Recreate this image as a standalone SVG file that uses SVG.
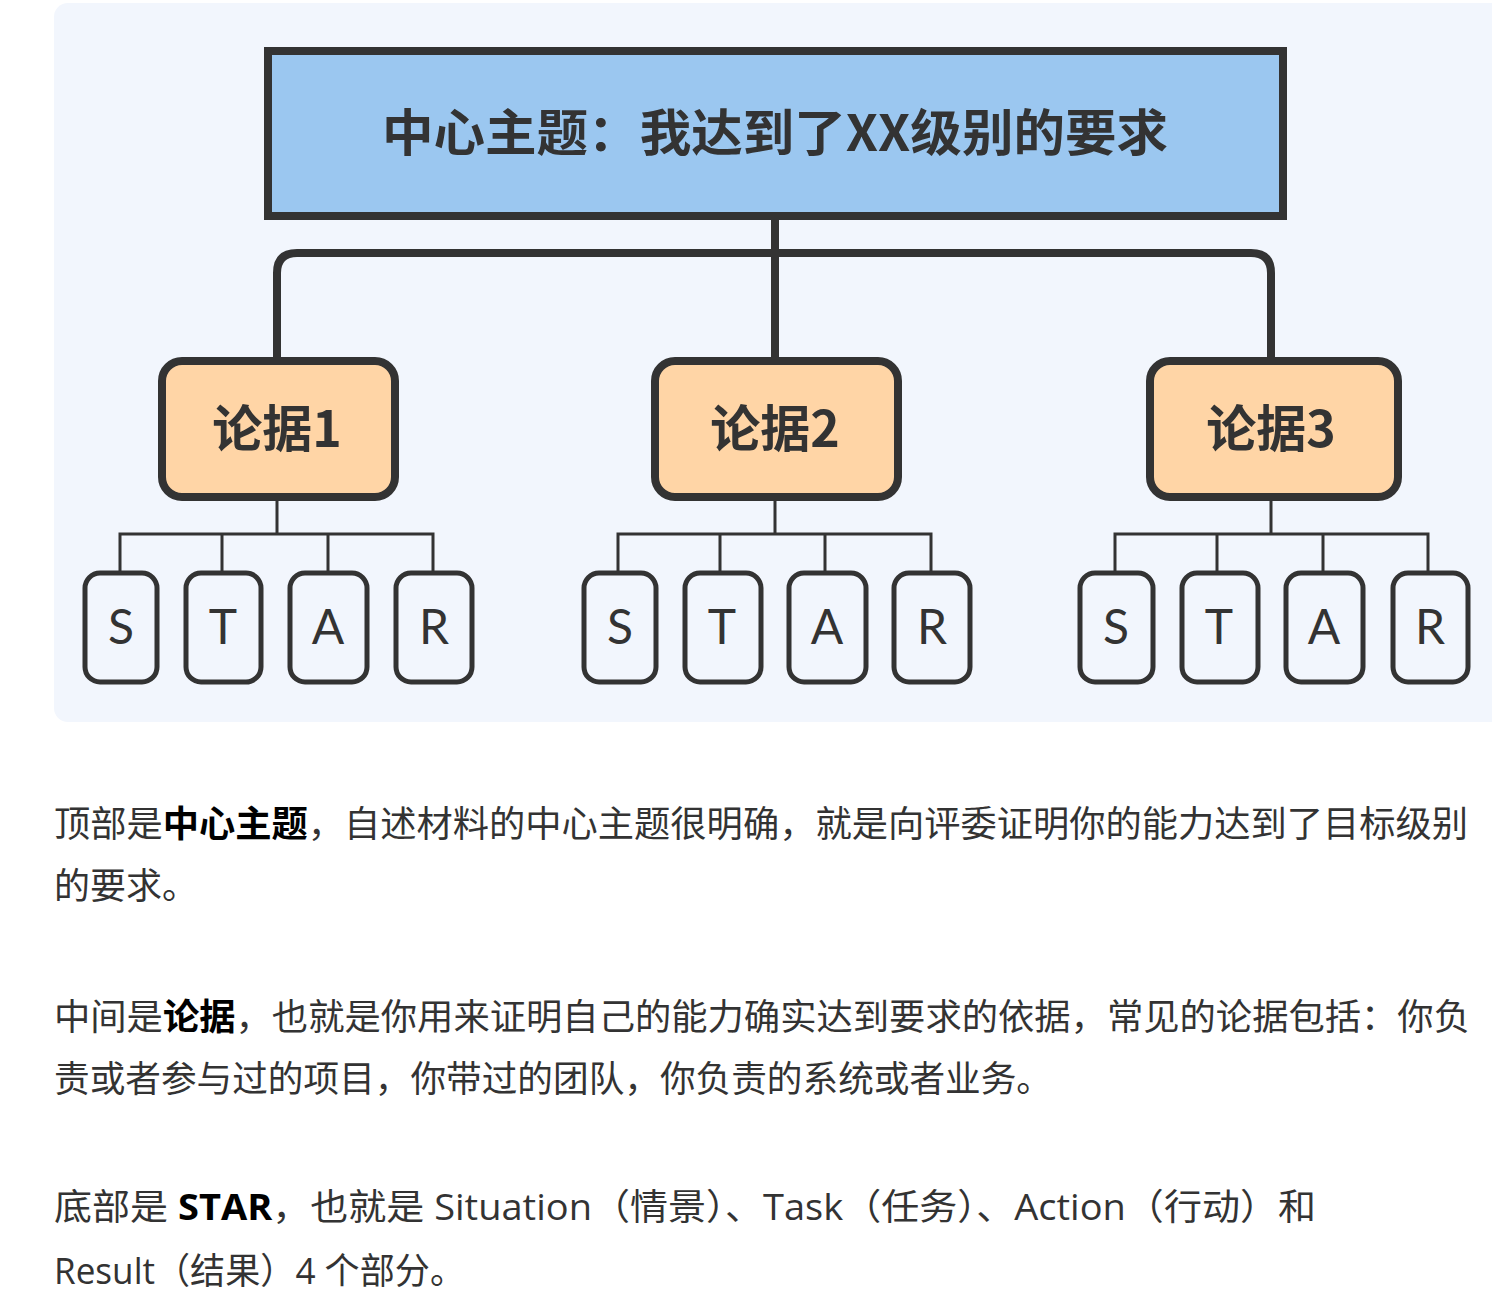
<svg xmlns="http://www.w3.org/2000/svg" width="1492" height="1298" viewBox="0 0 1492 1298">
<style>
.cjk{font-family:"Noto Sans CJK SC","Noto Sans",sans-serif;fill:#333;}
.mid{fill:#ffd5a6;stroke:#333;stroke-width:8;}
.leaf{fill:#f2f6fd;stroke:#333;stroke-width:5;}
.lt{font-family:"Lato","Noto Sans",sans-serif;font-size:48px;fill:#333;text-anchor:middle;}
.mt{font-family:"Noto Sans CJK SC",sans-serif;font-size:50px;font-weight:700;fill:#333;text-anchor:middle;}
.thick{fill:none;stroke:#333;stroke-width:8;}
.thin{fill:none;stroke:#333;stroke-width:3;}
.body{font-family:"Open Sans","Noto Sans CJK SC",sans-serif;font-size:36px;fill:#333;}
.b{font-weight:700;fill:#000;}
</style>
<rect x="54" y="3" width="1460" height="719" rx="14" fill="#f2f6fd"/>
<g id="connectors">
<path class="thick" d="M775,217 V362 M277,362 V273 Q277,253 297,253 H1251 Q1271,253 1271,273 V362"/>
<path class="thin" d="M277,497 V534 M120,573 V534 H433 V573 M222,534 V573 M328,534 V573"/>
<path class="thin" d="M775,497 V534 M618,573 V534 H931 V573 M720,534 V573 M825,534 V573"/>
<path class="thin" d="M1271,497 V534 M1115,573 V534 H1428 V573 M1217,534 V573 M1323,534 V573"/>
</g>
<g id="root">
<rect x="268" y="51" width="1015" height="165" fill="#9bc7f0" stroke="#333" stroke-width="8"/>
<text x="382" y="151" class="cjk" font-size="50" font-weight="700" textLength="786" lengthAdjust="spacingAndGlyphs">中心主题：我达到了XX级别的要求</text>
</g>
<g id="arg1"><rect class="mid" x="162" y="361" width="233" height="136" rx="20"/><text class="mt" x="277" y="447">论据1</text></g>
<g id="arg2"><rect class="mid" x="655" y="361" width="243" height="136" rx="20"/><text class="mt" x="775" y="447">论据2</text></g>
<g id="arg3"><rect class="mid" x="1150" y="361" width="248" height="136" rx="20"/><text class="mt" x="1271" y="447">论据3</text></g>
<g id="s1"><rect class="leaf" x="85" y="573" width="72" height="109" rx="15"/><text class="lt" x="121" y="644">S</text></g>
<g id="t1"><rect class="leaf" x="186" y="573" width="75" height="109" rx="15"/><text class="lt" x="223" y="644">T</text></g>
<g id="a1"><rect class="leaf" x="290" y="573" width="77" height="109" rx="15"/><text class="lt" x="328" y="644">A</text></g>
<g id="r1"><rect class="leaf" x="396" y="573" width="76" height="109" rx="15"/><text class="lt" x="434" y="644">R</text></g>
<g id="s2"><rect class="leaf" x="584" y="573" width="72" height="109" rx="15"/><text class="lt" x="620" y="644">S</text></g>
<g id="t2"><rect class="leaf" x="685" y="573" width="76" height="109" rx="15"/><text class="lt" x="722" y="644">T</text></g>
<g id="a2"><rect class="leaf" x="789" y="573" width="77" height="109" rx="15"/><text class="lt" x="827" y="644">A</text></g>
<g id="r2"><rect class="leaf" x="894" y="573" width="76" height="109" rx="15"/><text class="lt" x="932" y="644">R</text></g>
<g id="s3"><rect class="leaf" x="1080" y="573" width="73" height="109" rx="15"/><text class="lt" x="1116" y="644">S</text></g>
<g id="t3"><rect class="leaf" x="1182" y="573" width="76" height="109" rx="15"/><text class="lt" x="1219" y="644">T</text></g>
<g id="a3"><rect class="leaf" x="1286" y="573" width="77" height="109" rx="15"/><text class="lt" x="1324" y="644">A</text></g>
<g id="r3"><rect class="leaf" x="1393" y="573" width="75" height="109" rx="15"/><text class="lt" x="1430" y="644">R</text></g>
<g id="body">
<text class="body" x="54" y="837" textLength="1414" lengthAdjust="spacingAndGlyphs">顶部是<tspan class="b">中心主题</tspan>，自述材料的中心主题很明确，就是向评委证明你的能力达到了目标级别</text>
<text class="body" x="54" y="899">的要求。</text>
<text class="body" x="54" y="1030" textLength="1416" lengthAdjust="spacingAndGlyphs">中间是<tspan class="b">论据</tspan>，也就是你用来证明自己的能力确实达到要求的依据，常见的论据包括：你负</text>
<text class="body" x="54" y="1092" textLength="998" lengthAdjust="spacingAndGlyphs">责或者参与过的项目，你带过的团队，你负责的系统或者业务。</text>
<text class="body" x="54" y="1220" textLength="1262" lengthAdjust="spacingAndGlyphs">底部是 <tspan class="b">STAR</tspan>，也就是 Situation（情景）、Task（任务）、Action（行动）和</text>
<text class="body" x="54" y="1284" textLength="411" lengthAdjust="spacingAndGlyphs">Result（结果）4 个部分。</text>
</g>
</svg>
